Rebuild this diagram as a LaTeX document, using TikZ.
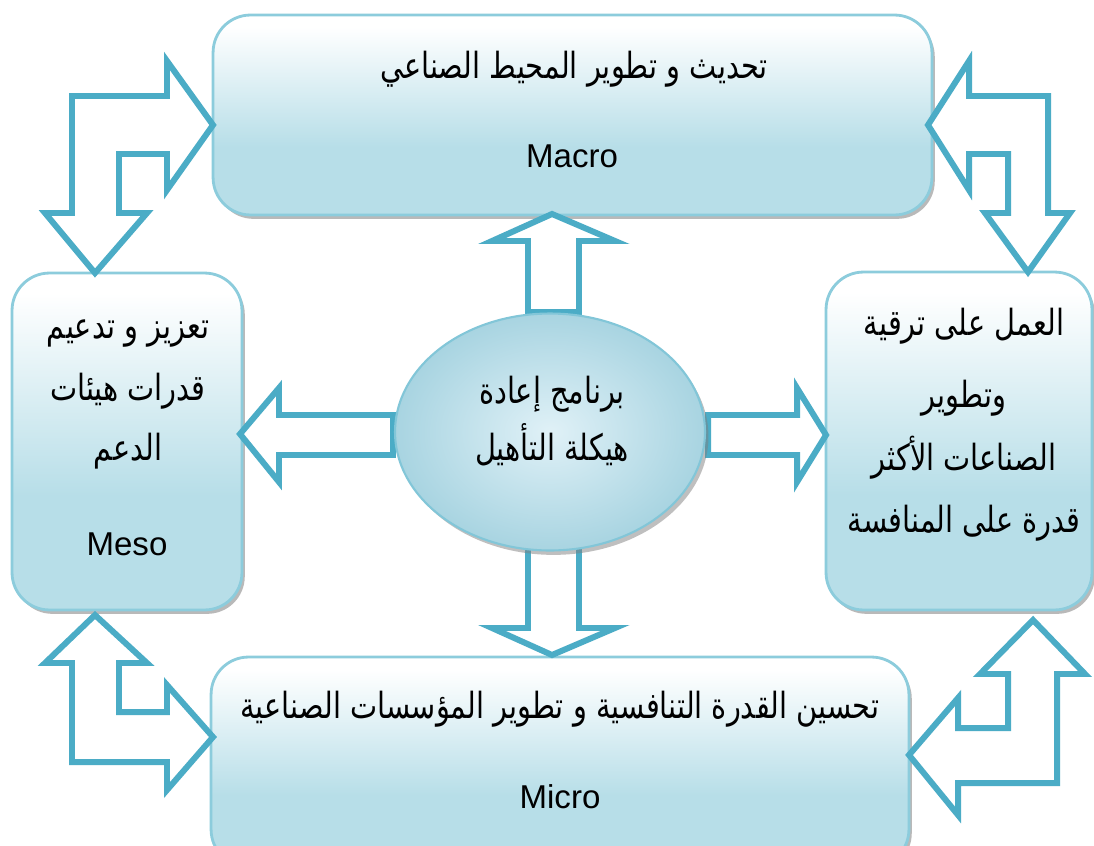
\documentclass[tikz,border=0pt]{standalone}
\usepackage{fontspec}
\setmainfont{Liberation Sans}
\newfontfamily\arabicfont[Script=Arabic, FakeStretch=0.8]{DejaVu Sans}
\TeXXeTstate=1
\usetikzlibrary{shadows,shapes.geometric}
\definecolor{boxblue}{RGB}{183,222,232}
\definecolor{boxedge}{RGB}{140,204,220}
\definecolor{arrowblue}{RGB}{75,172,198}
\definecolor{ellin}{RGB}{224,241,247}
\definecolor{ellout}{RGB}{168,212,225}
\definecolor{elledge}{RGB}{130,198,216}
\pgfdeclareverticalshading{boxshade}{100bp}{color(0bp)=(boxblue); color(42bp)=(boxblue); color(72bp)=(white); color(100bp)=(white)}
\newcommand{\artxt}[1]{\beginR #1\endR}
\tikzset{
  levelbox/.style={draw=boxedge, line width=1.6pt, rounded corners=0.75cm, shade, shading=boxshade,
    inner sep=0pt, drop shadow={shadow xshift=1.6pt, shadow yshift=-2.2pt, fill=black!50, opacity=0.55}},
  hub/.style={ellipse, draw=elledge, line width=1.2pt, inner color=ellin, outer color=ellout,
    inner sep=0pt, drop shadow={shadow xshift=2pt, shadow yshift=-2.5pt, fill=black!50, opacity=0.5}},
  blockarrow/.style={draw=arrowblue, fill=white, line width=3.4pt, line join=miter, miter limit=10},
  artext/.style={font=\arabicfont\fontsize{20.5}{24}\selectfont, inner sep=0pt, anchor=base},
  latext/.style={font=\fontsize{18.8}{22}\selectfont, inner sep=0pt, anchor=base},
}
\begin{document}
\begin{tikzpicture}[x=0.02cm, y=-0.02cm]
\clip (0,0) rectangle (1094,845);
\fill[white] (0,0) rectangle (1094,845);

% level boxes
\node[levelbox, minimum width=14.38cm, minimum height=4.0cm] (macro) at (572.5,115) {};
\node[levelbox, minimum width=4.6cm, minimum height=6.74cm] (meso) at (127,441.5) {};
\node[levelbox, minimum width=5.32cm, minimum height=6.76cm] (indus) at (959,441) {};
\node[levelbox, minimum width=13.96cm, minimum height=4.2cm] (micro) at (560,762) {};

% corner double arrows
\draw[blockarrow] (213,125) -- (167,61) -- (167,96) -- (72,96) -- (72,213) -- (45,213) -- (95,273)
  -- (147,213) -- (119,213) -- (119,154) -- (167,154) -- (167,190) -- cycle;
\draw[blockarrow] (928,125) -- (969,61) -- (969,96) -- (1048,96) -- (1048,213) -- (1070,213) -- (1028,272)
  -- (985,213) -- (1008,213) -- (1008,154) -- (969,154) -- (969,190) -- cycle;
\draw[blockarrow] (95,615) -- (147,663) -- (119,663) -- (119,712) -- (167,712) -- (167,685) -- (213,737)
  -- (167,790) -- (167,762) -- (72,762) -- (72,663) -- (45,663) -- cycle;
\draw[blockarrow] (1033,620) -- (1085,674) -- (1057,674) -- (1057,783) -- (958,783) -- (958,815) -- (909,755)
  -- (958,698) -- (958,728) -- (1008,728) -- (1008,674) -- (980,674) -- cycle;

% straight arrows from the hub
\draw[blockarrow] (528,312) -- (528,241) -- (492,241) -- (552,214) -- (615,241) -- (579,241) -- (579,312) -- cycle;
\draw[blockarrow] (528,540) -- (528,628) -- (492,628) -- (552,655) -- (615,628) -- (579,628) -- (579,540) -- cycle;
\draw[blockarrow] (393,415) -- (279,415) -- (279,388) -- (240,434) -- (279,482) -- (279,455) -- (393,455) -- cycle;
\draw[blockarrow] (708,415) -- (797,415) -- (797,388) -- (826,435) -- (797,482) -- (797,455) -- (708,455) -- cycle;

% hub
\node[hub, minimum width=6.2cm, minimum height=4.74cm] (hub) at (550,432) {};

% texts
\node[artext] (macroar) at (574,78) {\artxt{تحديث و تطوير المحيط الصناعي}};
\node[latext] (macrolat) at (572,167) {Macro};

\node[artext] (meso1) at (128,338) {\artxt{تعزيز و تدعيم}};
\node[artext] (meso2) at (128,400) {\artxt{قدرات هيئات}};
\node[artext] (meso3) at (128,460) {\artxt{الدعم}};
\node[latext] (mesolat) at (127,555) {Meso};

\node[artext] (ind1) at (964,335) {\artxt{العمل على ترقية}};
\node[artext] (ind2) at (964,407) {\artxt{وتطوير}};
\node[artext] (ind3) at (964,470) {\artxt{الصناعات الأكثر}};
\node[artext] (ind4) at (964,532) {\artxt{قدرة على المنافسة}};

\node[artext] (microar) at (560,718) {\artxt{تحسين القدرة التنافسية و تطوير المؤسسات الصناعية}};
\node[latext] (microlat) at (560,808) {Micro};

\node[artext] (hub1) at (552,403) {\artxt{برنامج إعادة}};
\node[artext] (hub2) at (552,460) {\artxt{هيكلة التأهيل}};
\end{tikzpicture}
\end{document}
